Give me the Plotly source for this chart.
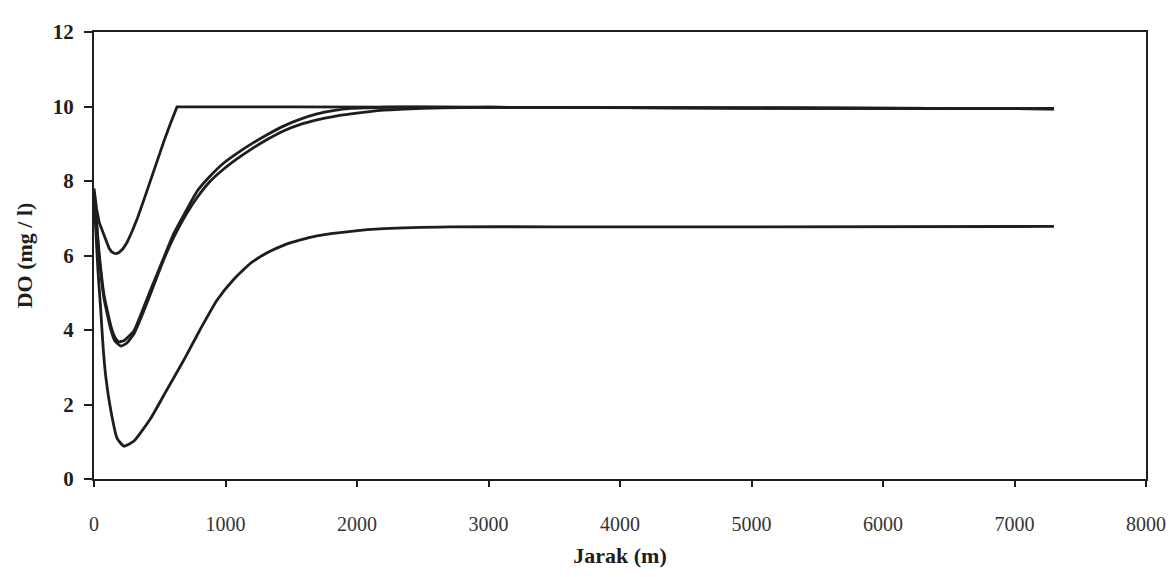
import plotly.graph_objects as go

# Series data: distance (m) and DO (mg/l)
x_top = [0, 10, 20, 40, 60, 76, 95, 114, 133, 152, 171, 190, 220, 251, 290, 330, 380, 433, 480, 530, 580, 631,
         1500, 3000, 5000, 7300]
y_top = [7.8, 7.5, 7.25, 6.88, 6.68, 6.53, 6.35, 6.2, 6.1, 6.06, 6.05, 6.08, 6.18, 6.35, 6.65, 7.0, 7.5, 8.07,
         8.55, 9.05, 9.53, 9.99, 9.99, 9.98, 9.96, 9.94]

x_mid1 = [0, 20, 38, 76, 129, 160, 190, 230, 304, 360, 433, 520, 608, 700, 783, 880, 989,
          1090, 1194, 1320, 1445, 1570, 1696, 1820, 1954, 2205, 2500, 3000, 5000, 7300]
y_mid1 = [7.6, 6.9, 6.1, 4.95, 4.1, 3.8, 3.68, 3.72, 3.98, 4.45, 5.1, 5.85, 6.6, 7.2, 7.72, 8.12, 8.49,
          8.75, 8.99, 9.25, 9.48, 9.66, 9.8, 9.89, 9.95, 9.98, 9.99, 9.98, 9.96, 9.94]

x_mid2 = [0, 20, 38, 76, 129, 160, 205, 250, 304, 360, 433, 520, 608, 700, 783, 880, 989,
          1090, 1194, 1320, 1445, 1570, 1696, 1820, 1954, 2205, 2500, 2800, 3000, 5000, 7300]
y_mid2 = [7.6, 6.8, 6.0, 4.85, 4.0, 3.7, 3.57, 3.65, 3.9, 4.35, 5.0, 5.8, 6.5, 7.1, 7.55, 7.98, 8.33,
          8.6, 8.85, 9.12, 9.35, 9.52, 9.64, 9.73, 9.8, 9.9, 9.95, 9.97, 9.98, 9.96, 9.94]

x_bot = [0, 15, 30, 50, 70, 91, 129, 175, 228, 304, 433, 555, 684, 813, 935, 1060, 1194,
         1320, 1445, 1570, 1696, 1954, 2205, 2700, 3500, 5000, 7300]
y_bot = [7.5, 6.6, 5.6, 4.6, 3.5, 2.7, 1.82, 1.1, 0.88, 1.02, 1.64, 2.4, 3.2, 4.05, 4.8, 5.35, 5.8,
         6.08, 6.28, 6.42, 6.53, 6.65, 6.72, 6.77, 6.77, 6.77, 6.78]

x_ticks = [0, 1000, 2000, 3000, 4000, 5000, 6000, 7000, 8000]
y_ticks = [0, 2, 4, 6, 8, 10, 12]

line_color = "#1e1e1e"
line_width = 2.8

fig = go.Figure()
# top curve has a sharp corner at its peak -> straight segments
fig.add_trace(go.Scatter(x=x_top, y=y_top, mode="lines",
                         line=dict(color=line_color, width=line_width, shape="linear"),
                         showlegend=False))
for xs, ys in [(x_mid1, y_mid1), (x_mid2, y_mid2), (x_bot, y_bot)]:
    fig.add_trace(go.Scatter(x=xs, y=ys, mode="lines",
                             line=dict(color=line_color, width=line_width, shape="spline", smoothing=0.5),
                             showlegend=False))

fig.update_layout(
    width=1176, height=577,
    margin=dict(l=86, r=38, t=18, b=106),
    plot_bgcolor="white", paper_bgcolor="white",
    font=dict(family="Liberation Serif", color="#1e1e1e"),
    showlegend=False,
)
fig.update_xaxes(
    range=[0, 8000], tickvals=x_ticks, ticktext=[str(v) for v in x_ticks],
    showgrid=False, zeroline=False,
    showline=True, linecolor="#1e1e1e", linewidth=2, mirror=True,
    ticks="outside", ticklen=6, tickcolor="#1e1e1e", tickwidth=1.5,
    tickfont=dict(family="Liberation Serif", size=20, color="#333"),
    ticklabelstandoff=20,
    title=dict(text="<b>Jarak (m)</b>", font=dict(family="Liberation Serif", size=22), standoff=14),
)
fig.update_yaxes(
    range=[0, 12], tickvals=y_ticks, ticktext=[f"<b>{v}</b>" for v in y_ticks],
    showgrid=False, zeroline=False,
    showline=True, linecolor="#1e1e1e", linewidth=2, mirror=True,
    ticks="outside", ticklen=8, tickcolor="#1e1e1e", tickwidth=1.5,
    tickfont=dict(family="Liberation Serif", size=21),
    ticklabelstandoff=6,
    title=dict(text="<b>DO (mg / l)</b>", font=dict(family="Liberation Serif", size=22), standoff=14),
)

fig.write_html("out.html")
